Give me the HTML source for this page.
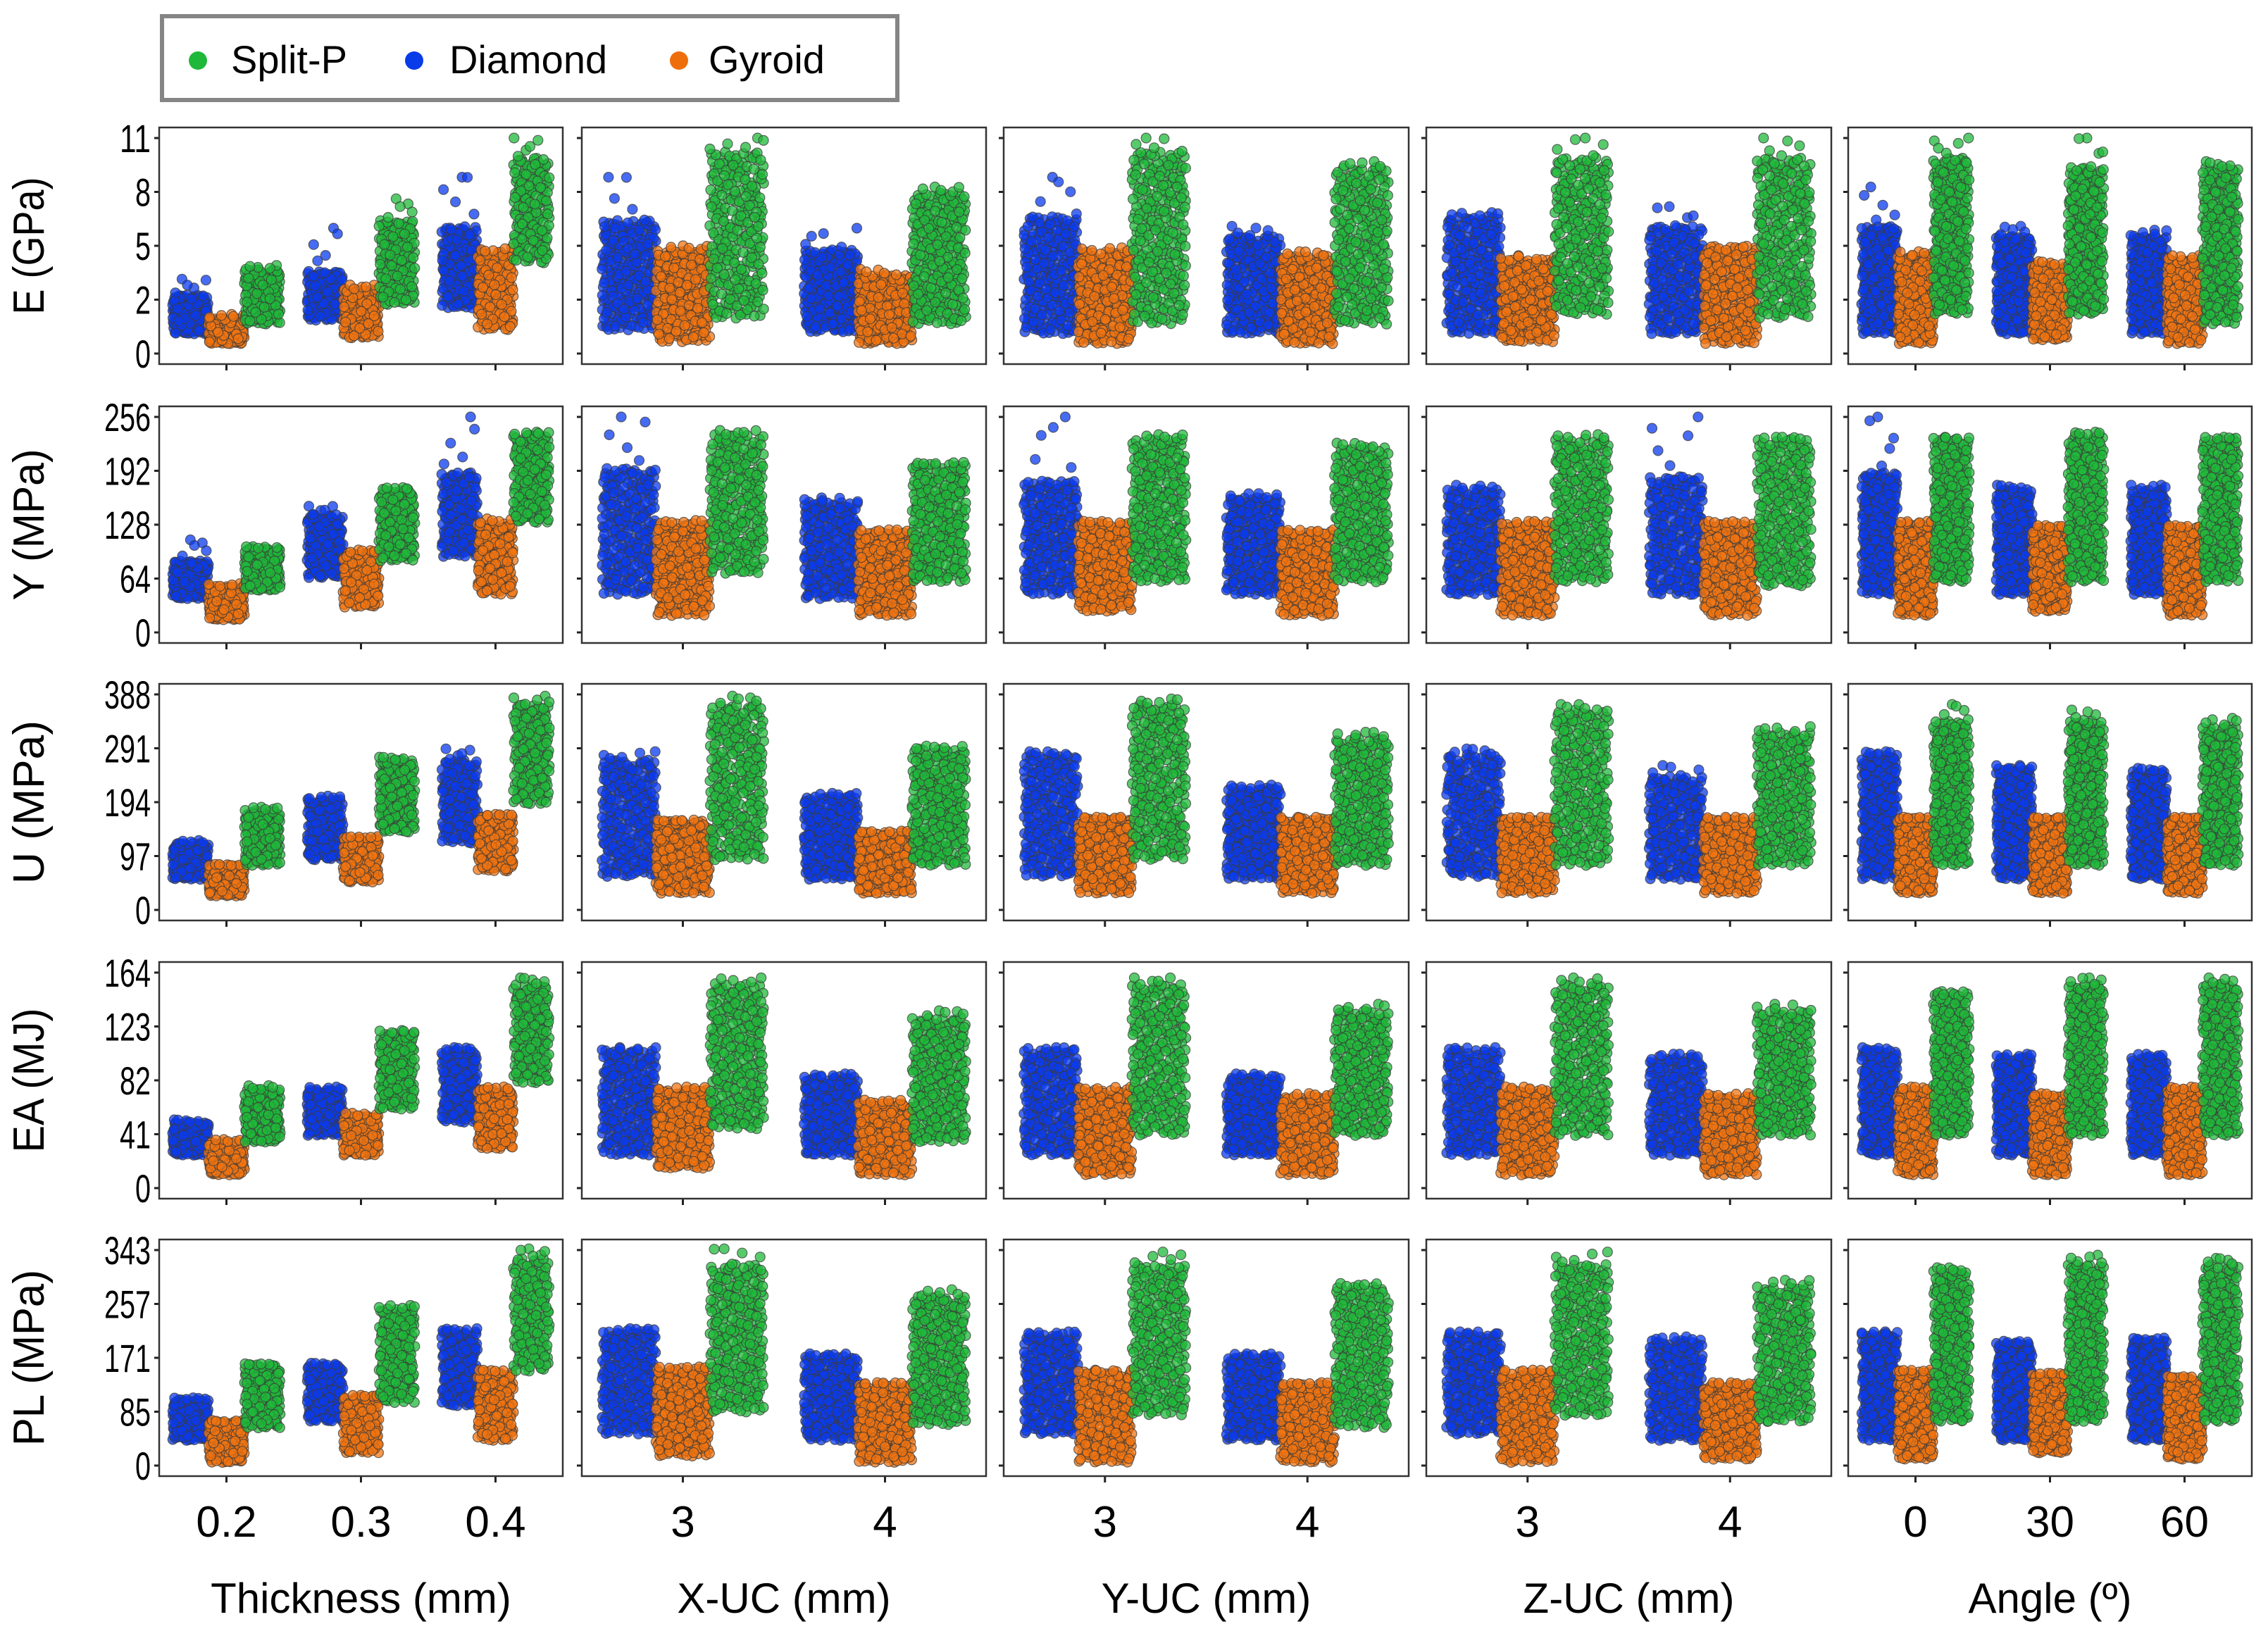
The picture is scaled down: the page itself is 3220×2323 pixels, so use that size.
<!DOCTYPE html>
<html><head><meta charset="utf-8">
<style>
html,body{margin:0;padding:0;background:#fff;}
svg{display:block;}
text{font-family:"Liberation Sans",sans-serif;fill:#000;}
</style></head>
<body>
<svg id="chart" width="3220" height="2323" viewBox="0 0 3220 2323" xmlns="http://www.w3.org/2000/svg">
  <g>
    <rect x="230" y="23" width="1044" height="119" fill="#fff" stroke="#858585" stroke-width="6"/>
    <g>
      <circle cx="281" cy="86" r="13" fill="#1fb83a"/>
      <text x="328" y="104" font-size="56">Split-P</text>
    </g>
    <g>
      <circle cx="588" cy="86" r="13" fill="#0a3be8"/>
      <text x="638" y="104" font-size="56">Diamond</text>
    </g>
    <g>
      <circle cx="964" cy="86" r="13" fill="#ee6e0c"/>
      <text x="1006" y="104" font-size="56">Gyroid</text>
    </g>
  </g>
  <g id="panels"></g>
</svg>
<script>
// ---- data ----
const factorTitles = ["Thickness (mm)", "X-UC (mm)", "Y-UC (mm)", "Z-UC (mm)", "Angle (º)"];
const factorLabels = [["0.2","0.3","0.4"],["3","4"],["3","4"],["3","4"],["0","30","60"]];
const metricTitles = ["E (GPa)", "Y (MPa)", "U (MPa)", "EA (MJ)", "PL (MPa)"];
const metricMax = [11, 256, 388, 164, 343];
const tickLabelsE = ["0","2","5","8","11"];
const tickLabelsY = ["0","64","128","192","256"];
const tickLabelsU = ["0","97","194","291","388"];
const tickLabelsEA = ["0","41","82","123","164"];
const tickLabelsPL = ["0","85","171","257","343"];
const hueNames = ["Diamond","Gyroid","Split-P"];
// each entry: [low, high, top outlier] per category (12 categories across 5 factor panels)
const E_diamond = [[1,3,3.8],[1.7,4.2,6.4],[2.3,6.5,9],[1.2,6.8,9],[1.1,5.3,6.4],[1,7,9],[1,6,6.5],[1,7,7.2],[1,6.5,7.5],[1,6.5,8.5],[1,6,6.5],[1,6,6.3]];
const E_gyroid = [[0.5,1.8,2],[0.8,3.3,3.5],[1.2,5.2,5.4],[0.6,5.3,5.5],[0.5,4,4.3],[0.5,5.2,5.4],[0.5,5,5.2],[0.6,4.8,5],[0.5,5.5,5.5],[0.5,5,5.2],[0.7,4.5,4.7],[0.5,4.8,5]];
const E_splitp = [[1.5,4.3,4.5],[2.5,6.8,7.9],[4.6,10,11],[1.8,10.3,11],[1.5,8.2,8.5],[1.5,10.3,11],[1.5,9.5,9.8],[2,10,11],[1.8,10,11],[2,10,11],[2,9.5,11],[1.5,9.5,9.8]];
const Y_diamond = [[40,85,110],[65,140,150],[90,190,256],[45,195,256],[40,155,160],[45,180,256],[45,160,165],[45,170,175],[45,185,256],[45,190,256],[45,170,175],[45,170,175]];
const Y_gyroid = [[15,55,58],[30,95,98],[45,130,135],[20,130,133],[20,120,122],[25,130,132],[20,120,122],[20,130,132],[20,130,132],[20,130,132],[25,125,127],[20,125,127]];
const Y_splitp = [[50,100,102],[85,170,172],[130,235,238],[70,235,240],[60,200,202],[60,230,235],[60,220,225],[60,230,235],[55,230,232],[60,230,232],[60,235,238],[60,230,232]];
const U_diamond = [[55,120,125],[90,200,205],[120,270,290],[60,270,285],[55,205,210],[60,280,285],[55,220,225],[60,280,290],[55,240,260],[55,280,285],[55,255,260],[55,250,255]];
const U_gyroid = [[25,80,82],[50,130,132],[70,170,172],[30,160,162],[30,140,142],[30,165,167],[30,165,167],[30,165,167],[30,165,167],[30,165,167],[30,165,167],[30,165,167]];
const U_splitp = [[80,180,185],[140,270,275],[190,370,385],[90,370,385],[80,290,295],[90,370,380],[80,310,320],[80,360,370],[80,320,330],[80,340,370],[80,340,360],[80,330,345]];
const EA_diamond = [[25,50,52],[40,75,77],[50,105,107],[25,105,107],[25,85,87],[25,105,107],[25,85,87],[25,105,107],[25,100,102],[25,105,107],[25,100,102],[25,100,102]];
const EA_gyroid = [[10,35,37],[25,55,57],[30,75,77],[15,75,77],[10,65,67],[10,75,77],[10,70,72],[10,75,77],[10,70,72],[10,75,77],[10,70,72],[10,75,77]];
const EA_splitp = [[35,75,78],[60,118,120],[80,155,160],[45,155,160],[35,130,135],[40,155,160],[40,135,140],[40,155,160],[40,135,140],[40,150,150],[40,155,160],[40,155,160]];
const PL_diamond = [[40,105,108],[70,160,163],[95,215,218],[50,215,218],[40,175,178],[50,210,213],[40,175,178],[50,210,213],[40,200,205],[40,210,213],[40,195,198],[40,200,203]];
const PL_gyroid = [[5,70,72],[20,110,112],[40,150,152],[15,155,157],[5,130,132],[5,150,152],[5,130,132],[5,150,152],[10,130,132],[10,150,152],[20,145,147],[10,140,142]];
const PL_splitp = [[60,160,162],[100,250,255],[150,330,345],[85,320,345],[65,270,280],[80,320,340],[60,285,290],[80,320,340],[70,285,295],[70,310,315],[70,320,335],[70,320,330]];

const metricData = [
  [E_diamond, E_gyroid, E_splitp],
  [Y_diamond, Y_gyroid, Y_splitp],
  [U_diamond, U_gyroid, U_splitp],
  [EA_diamond, EA_gyroid, EA_splitp],
  [PL_diamond, PL_gyroid, PL_splitp]
];
const metricTicks = [tickLabelsE, tickLabelsY, tickLabelsU, tickLabelsEA, tickLabelsPL];

// ---- layout ----
const NS = "http://www.w3.org/2000/svg";
const colLeft = [226, 826, 1425, 2025, 2624];
const colRight = [799, 1400, 2000, 2600, 3197];
const rowTop = [181, 577, 971, 1366, 1760];
const panelH = 336;
const hueColor = ["#0a3bef", "#f27410", "#1fba3a"];
const titleLen = [195, 215, 232, 205, 250];
const root = document.getElementById("panels");

function mk(tag, attrs, parent) {
  const e = document.createElementNS(NS, tag);
  for (const k in attrs) e.setAttribute(k, attrs[k]);
  parent.appendChild(e);
  return e;
}
function halton(i, b) { let f = 1, r = 0; while (i > 0) { f /= b; r += f * (i % b); i = Math.floor(i / b); } return r; }
function yScale(row, v) {
  const bot = rowTop[row] + panelH - 15, top = rowTop[row] + 15;
  return bot - v / metricMax[row] * (bot - top);
}
function xCenter(col, k) {
  const w = colRight[col] - colLeft[col], n = factorLabels[col].length;
  return colLeft[col] + (k + 0.5) * w / n;
}

let catOffset = [];
{ let c = 0; for (let i = 0; i < 5; i++) { catOffset.push(c); c += factorLabels[i].length; } }

for (let r = 0; r < 5; r++) {
  const yt = mk("text", {x: 0, y: 0, "font-size": 62, "text-anchor": "middle",
    transform: `translate(62,${rowTop[r] + panelH / 2}) rotate(-90)`,
    textLength: titleLen[r], lengthAdjust: "spacingAndGlyphs"}, root);
  
  
  yt.textContent = metricTitles[r];

  for (let c = 0; c < 5; c++) {
    const g = mk("g", {}, root);
    
    
    const L = colLeft[c], R = colRight[c], T = rowTop[r], B = T + panelH;
    for (let t = 0; t < 5; t++) {
      const v = metricMax[r] * t / 4, y = yScale(r, v);
      const tk = mk("line", {x1: L - 7, x2: L, y1: y, y2: y, stroke: "#222", "stroke-width": 3}, g);
      
      
      if (c === 0) {
        const lbl = metricTicks[r][t];
        const tl = mk("text", {x: L - 12, y: y + 20, "font-size": 56, "text-anchor": "end",
          textLength: lbl.length * 22, lengthAdjust: "spacingAndGlyphs"}, g);
        
        
        tl.textContent = lbl;
      }
    }
    const n = factorLabels[c].length;
    const band = (R - L) / n, sp = 0.8 * band / 3, halfw = 0.5 * sp;
    const nPts = c === 0 ? 170 : 270;
    for (let k = 0; k < n; k++) {
      const ci = catOffset[c] + k, xc = xCenter(c, k);
      for (let h = 0; h < 3; h++) {
        const [lo, hi, top] = metricData[r][h][ci];
        const sg = mk("g", {fill: hueColor[h], "fill-opacity": 0.75, stroke: "#3b3b3b", "stroke-opacity": 0.75, "stroke-width": 1.2}, g);
        
        
        const cx0 = xc + (h - 1) * sp;
        const seed = 1 + r * 997 + ci * 131 + h * 37;
        for (let i = 0; i < nPts; i++) {
          const u = halton(seed + i, 2), vv = halton(seed + i, 5);
          const val = lo + (hi - lo) * u;
          const pt = mk("circle", {cx: (cx0 + (vv - 0.5) * 2 * halfw).toFixed(1), cy: yScale(r, val).toFixed(1), r: 7}, sg);
          
          
        }
        if (top > hi) {
          for (let i = 0; i < 5; i++) {
            const u = halton(seed + 500 + i, 2), vv = halton(seed + 500 + i, 3);
            const val = hi + (top - hi) * (i === 0 ? 1 : u);
            const pt = mk("circle", {cx: (cx0 + (vv - 0.5) * 2 * halfw).toFixed(1), cy: yScale(r, val).toFixed(1), r: 7}, sg);
            
            
          }
        }
      }
      const xt = mk("line", {x1: xc, x2: xc, y1: B, y2: B + 9, stroke: "#222", "stroke-width": 3}, g);
      
      
      if (r === 4) {
        const lbl = factorLabels[c][k];
        const xl = mk("text", {x: xc, y: 2182, "font-size": 62, "text-anchor": "middle"}, root);
        
        
        xl.textContent = lbl;
      }
    }
    const fr = mk("rect", {x: L, y: T, width: R - L, height: panelH, fill: "none", stroke: "#333", "stroke-width": 2.5}, g);
    
    
    if (r === 4) {
      const xt2 = mk("text", {x: (L + R) / 2, y: 2290, "font-size": 60, "text-anchor": "middle"}, root);
      
      
      xt2.textContent = factorTitles[c];
    }
  }
}
</script>
</body></html>
